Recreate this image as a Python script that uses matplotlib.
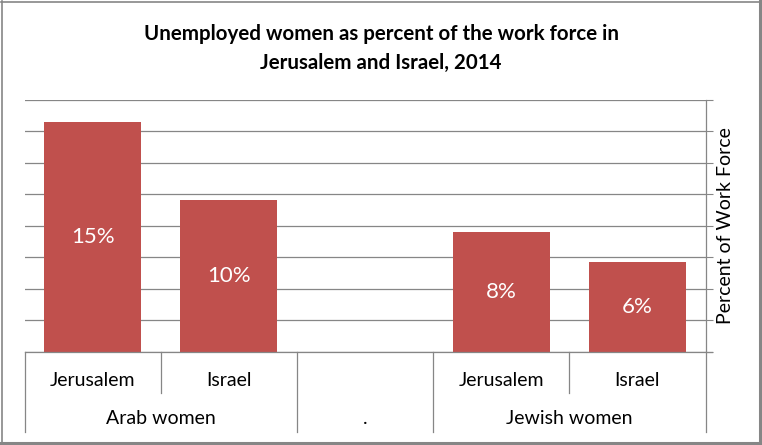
import matplotlib
matplotlib.use("Agg")
import matplotlib.pyplot as plt
from matplotlib.lines import Line2D
from matplotlib.transforms import blended_transform_factory

# ---- data ----
sub_labels = ["Jerusalem", "Israel", "", "Jerusalem", "Israel"]
group_labels = ["Arab women", ".", "Jewish women"]
group_spans = [(0, 1), (2, 2), (3, 4)]
values = [14.6, 9.6, None, 7.6, 5.7]
value_labels = ["15%", "10%", "", "8%", "6%"]
title = "Unemployed women as percent of the work force in\nJerusalem and Israel, 2014"
ylabel = "Percent of Work Force"

W, H = 762, 445
BAR = "#C0504D"
GRID = "#868686"
FONT = ["Lato", "DejaVu Sans"]
plt.rcParams["font.family"] = FONT

fig = plt.figure(figsize=(W / 100, H / 100), dpi=100)
fig.patch.set_facecolor("white")

def fx(px):
    return px / W

def fy(py):
    return 1 - py / H

left, right, top, bottom = 24.5, 705.5, 99.5, 351.5
ax = fig.add_axes([fx(left), fy(bottom), fx(right) - fx(left), fy(top) - fy(bottom)])

xs = [i for i, v in enumerate(values) if v is not None]
hs = [v for v in values if v is not None]
ax.bar(xs, hs, width=0.715, color=BAR, zorder=3)
for x, v, lab in zip(range(len(values)), values, value_labels):
    if v is not None:
        ax.text(x, v / 2, lab, ha="center", va="center", color="white", fontsize=16, zorder=4)

ax.set_xlim(-0.5, len(values) - 0.5)
ax.set_ylim(0, 16)
ax.set_yticks(range(0, 17, 2))
ax.yaxis.tick_right()
ax.yaxis.set_label_position("right")
ax.tick_params(axis="y", which="both", length=5, width=0.8, color=GRID, labelright=False, labelleft=False)
ax.tick_params(axis="x", bottom=False, labelbottom=False)
ax.grid(axis="y", color=GRID, linewidth=0.9, zorder=0)
for s in ["left", "top", "bottom"]:
    ax.spines[s].set_visible(False)
ax.spines["right"].set_color(GRID)
ax.spines["right"].set_linewidth(0.9)
ax.set_ylabel(ylabel, fontsize=14, labelpad=3)

# category axis drawing
tr = blended_transform_factory(ax.transData, fig.transFigure)
fig.add_artist(Line2D([fx(left), fx(712)], [fy(351.5), fy(351.5)], color=GRID, lw=0.9))
inner_bottom = fy(393)
outer_bottom = fy(432)
boundaries_outer = [-0.5]
for (a, b) in group_spans:
    boundaries_outer.append(b + 0.5)
for xb in boundaries_outer:
    fig.add_artist(Line2D([xb, xb], [fy(351.5), outer_bottom], transform=tr, color=GRID, lw=0.9))
for (a, b) in group_spans:
    for xb in range(a, b):
        fig.add_artist(Line2D([xb + 0.5, xb + 0.5], [fy(351.5), inner_bottom], transform=tr, color=GRID, lw=0.9))
for i, lab in enumerate(sub_labels):
    if lab:
        fig.text(i, fy(380), lab, transform=tr, ha="center", va="center", fontsize=14)
for (a, b), lab in zip(group_spans, group_labels):
    fig.text((a + b) / 2, fy(418), lab, transform=tr, ha="center", va="center", fontsize=14)

fig.text(0.5, fy(48.5), title, ha="center", va="center", fontsize=14.8, fontweight="bold",
         linespacing=1.5)

# figure border with slight shadow
fig.add_artist(Line2D([fx(1), fx(759)], [fy(1.5), fy(1.5)], color=GRID, lw=1.2))
fig.add_artist(Line2D([fx(1.5), fx(1.5)], [fy(1), fy(442)], color=GRID, lw=1.2))
fig.add_artist(Line2D([fx(760), fx(760)], [fy(1), fy(443)], color=GRID, lw=2.2))
fig.add_artist(Line2D([fx(1), fx(761)], [fy(443), fy(443)], color=GRID, lw=2.2))

fig.savefig("out.png", dpi=100)
